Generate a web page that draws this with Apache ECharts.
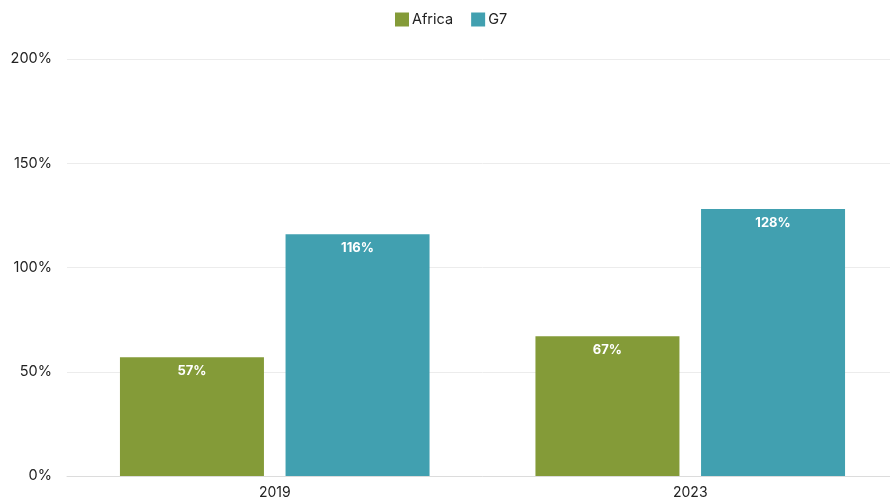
<!DOCTYPE html>
<html>
<head>
<meta charset="utf-8">
<script src="https://cdn.jsdelivr.net/npm/echarts@6/dist/echarts.min.js"></script>
<style>
  html, body { margin: 0; padding: 0; background: #fff; overflow: hidden; width: 890px; height: 504px; }
  #chart { width: 898px; height: 504px; }
</style>
</head>
<body>
<div id="chart"></div>
<script>
const years = ['2019', '2023'];
const africa = [57, 67];
const g7 = [116, 128];
const yTicks = [0, 50, 100, 150, 200];

const chart = echarts.init(document.getElementById('chart'));
const labelStyle = {
  show: true,
  position: 'insideTop',
  distance: 7,
  color: '#ffffff',
  fontWeight: 'bold',
  fontSize: 13,
  fontFamily: 'Inter, Roboto, sans-serif',
  formatter: p => p.value + '%'
};
chart.setOption({
  animation: false,
  textStyle: { fontFamily: 'Inter, Roboto, sans-serif' },
  legend: {
    top: 7,
    left: 390,
    itemWidth: 14,
    itemHeight: 14,
    itemGap: 18,
    icon: 'rect',
    textStyle: { fontSize: 14.5, color: '#222', padding: [0, 0, 0, -2] },
    data: ['Africa', 'G7']
  },
  grid: { left: 67, right: 0, top: 59, bottom: 28, containLabel: false },
  xAxis: {
    type: 'category',
    data: years,
    axisLine: { show: true, lineStyle: { color: '#dcdcdc' } },
    axisTick: { show: false },
    axisLabel: { fontSize: 14, color: '#222', margin: 10 }
  },
  yAxis: {
    type: 'value',
    min: yTicks[0],
    max: yTicks[yTicks.length - 1],
    interval: 50,
    axisLine: { show: false },
    axisTick: { show: false },
    splitLine: { lineStyle: { color: '#ececec' } },
    axisLabel: { fontSize: 14.5, color: '#222', margin: 15, formatter: v => v + '%' }
  },
  series: [
    {
      name: 'Africa',
      type: 'bar',
      data: africa,
      barWidth: 144,
      barGap: '15%',
      itemStyle: { color: '#849b38' },
      label: labelStyle
    },
    {
      name: 'G7',
      type: 'bar',
      data: g7,
      barWidth: 144,
      itemStyle: { color: '#41a0b0' },
      label: labelStyle
    }
  ]
});
</script>
</body>
</html>
